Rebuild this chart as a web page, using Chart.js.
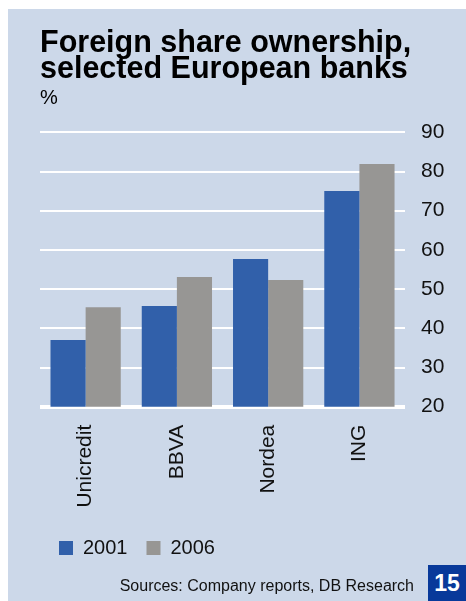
<!DOCTYPE html>
<html>
<head>
<meta charset="utf-8">
<script src="https://cdn.jsdelivr.net/npm/chart.js@4.4.1/dist/chart.umd.min.js"></script>
<style>
  html, body { margin: 0; padding: 0; background: #ffffff; }
  #wrap { position: relative; width: 466px; height: 601px; overflow: hidden; }
  #panel { position: absolute; left: 8px; top: 9px; right: 0; bottom: 0; background: #ccd8e9; }
  #c { position: absolute; left: 0; top: 0; }
  #src { position: absolute; right: 52px; top: 578px; font: 16px "Liberation Sans", Arial, sans-serif; line-height: 16px; color: #111; white-space: nowrap; }
  #pg { position: absolute; left: 428px; top: 565px; width: 38px; height: 36px; background: #08399a; color: #fff;
        font: bold 23px "Liberation Sans", Arial, sans-serif; display: flex; align-items: center; justify-content: center; }
</style>
</head>
<body>
<div id="wrap">
  <div id="panel"></div>
  <canvas id="c" width="466" height="601"></canvas>
  <div id="src">Sources: Company reports, DB Research</div>
  <div id="pg">15</div>
</div>
<script>
const categories = ["Unicredit", "BBVA", "Nordea", "ING"];
const seriesNames = ["2001", "2006"];
const values2001 = [37.0, 45.7, 57.7, 75.0];
const values2006 = [45.4, 53.1, 52.3, 81.9];
const yTicks = [20, 30, 40, 50, 60, 70, 80, 90];
const titleLines = ["Foreign share ownership,", "selected European banks"];
const unitLabel = "%";

const FONT = "'Liberation Sans', Arial, Helvetica, sans-serif";

new Chart(document.getElementById("c"), {
  type: "bar",
  data: {
    labels: categories,
    datasets: [
      { label: seriesNames[0], data: values2001, backgroundColor: "#3160aa", borderWidth: 0,
        categoryPercentage: 0.77, barPercentage: 1.0 },
      { label: seriesNames[1], data: values2006, backgroundColor: "#979694", borderWidth: 0,
        categoryPercentage: 0.77, barPercentage: 1.0 }
    ]
  },
  options: {
    responsive: false,
    animation: false,
    devicePixelRatio: 1,
    layout: { padding: { left: 40, right: 5.6, top: 0, bottom: 33 } },
    plugins: {
      title: {
        display: true,
        text: titleLines,
        align: "start",
        color: "#000",
        font: { family: FONT, size: 30.5, weight: "bold", lineHeight: "26px" },
        padding: { top: 30.7, bottom: 0 }
      },
      subtitle: {
        display: true,
        text: unitLabel,
        align: "start",
        color: "#000",
        font: { family: FONT, size: 20, weight: "normal", lineHeight: "24px" },
        padding: { top: 3.4, bottom: 22.2 }
      },
      legend: {
        display: true,
        position: "bottom",
        align: "start",
        labels: {
          color: "#111",
          font: { family: FONT, size: 20 },
          boxWidth: 14,
          boxHeight: 14,
          padding: 19
        }
      },
      tooltip: { enabled: false }
    },
    scales: {
      x: {
        grid: { display: false },
        border: { display: false },
        ticks: {
          color: "#111",
          font: { family: FONT, size: 21 },
          maxRotation: 90,
          minRotation: 90,
          padding: 10
        },
        afterFit: (scale) => { scale.height = 112.3; }
      },
      y: {
        position: "right",
        min: 20,
        max: 90,
        afterBuildTicks: (scale) => { scale.ticks = yTicks.map(v => ({ value: v })); },
        grid: {
          color: "#ffffff",
          lineWidth: (ctx) => (ctx.tick && ctx.tick.value === 20 ? 4 : 2),
          drawTicks: false
        },
        border: { display: false },
        ticks: {
          color: "#111",
          font: { family: FONT, size: 21 },
          padding: 16
        }
      }
    }
  }
});
</script>
</body>
</html>
